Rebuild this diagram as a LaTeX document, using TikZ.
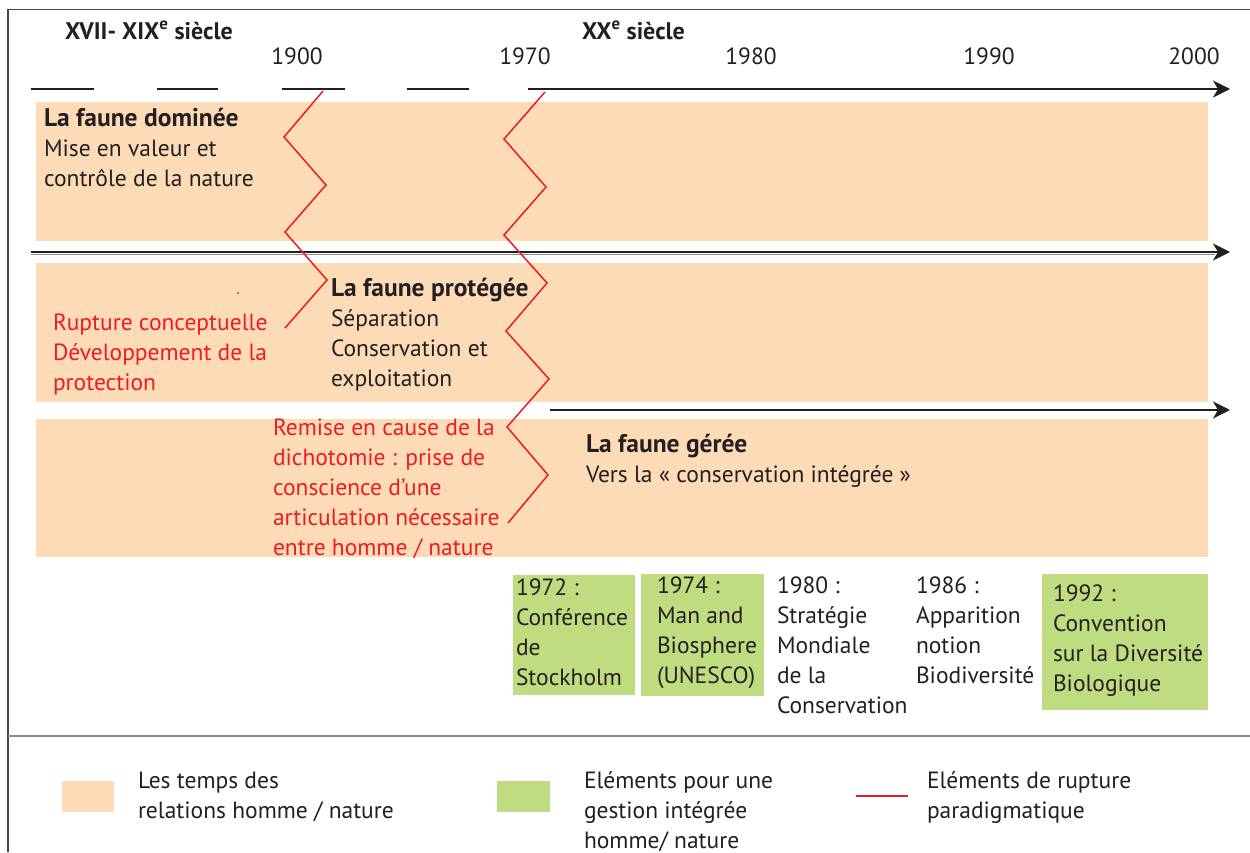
\documentclass[tikz,border=0pt]{standalone}
\usepackage{fontspec}
\setmainfont{PT Sans}
\usetikzlibrary{arrows.meta}
\definecolor{peach}{RGB}{253,219,182}
\definecolor{leaf}{RGB}{192,220,128}
\definecolor{rupt}{RGB}{237,28,36}
\definecolor{ink}{RGB}{35,31,32}
\definecolor{framec}{RGB}{70,70,70}
\definecolor{sepc}{RGB}{140,140,140}
\newcommand{\stackl}[1]{\begin{tabular}[t]{@{}l@{}}#1\end{tabular}}
\newcommand{\btitle}[1]{{\fontsize{25.5}{30}\selectfont\bfseries #1}}
\begin{document}
\begin{tikzpicture}[x=1pt,y=-1pt,
  every node/.style={inner sep=0pt, outer sep=0pt, anchor=base west,
    font=\fontsize{23.5}{30}\selectfont, text=ink},
  band/.style={fill=peach, draw=none},
  evbox/.style={fill=leaf, draw=none},
  axis/.style={draw=ink, line width=2pt},
  axisarrow/.style={axis, -{Stealth[length=17pt, width=17pt, inset=5pt]}},
  zig/.style={draw=rupt, line width=1.5pt, line join=miter},
  rupttext/.style={text=rupt},
  yearlbl/.style={anchor=base},
  headlbl/.style={font=\fontsize{24}{28}\selectfont\bfseries}]
\useasboundingbox (0,0) rectangle (1250,852);
% frame
\draw[framec, line width=1.5pt] (8,852) -- (8,9.5) -- (1250,9.5);
\draw[sepc, line width=2pt] (8,736) -- (1250,736);
% bands
\path[band] (36,102) rectangle (1208,241);
\path[band] (36,263) rectangle (1208,402);
\path[band] (36,419) rectangle (1208,557);
% headers
\node[headlbl] (h1) at (65,39) {XVII- XIX\textsuperscript{e} siècle};
\node[headlbl] (h2) at (582,39) {XX\textsuperscript{e} siècle};
% years
\node[yearlbl] (y1900) at (297,64) {1900};
\node[yearlbl] (y1970) at (525,64) {1970};
\node[yearlbl] (y1980) at (751,64) {1980};
\node[yearlbl] (y1990) at (989,64) {1990};
\node[yearlbl] (y2000) at (1194,64) {2000};
% timeline coordinates
\coordinate (d1a) at (31,89);  \coordinate (d1b) at (94,89);
\coordinate (d2a) at (157,89); \coordinate (d2b) at (218,89);
\coordinate (d3a) at (282,89); \coordinate (d3b) at (345,89);
\coordinate (d4a) at (407,89); \coordinate (d4b) at (469,89);
\coordinate (t1a) at (528,89); \coordinate (t1b) at (1230,89);
\coordinate (t2a) at (31,252); \coordinate (t2b) at (1230,252);
\coordinate (t3a) at (550,410); \coordinate (t3b) at (1230,410);
\draw[axis] (d1a) -- (d1b);
\draw[axis] (d2a) -- (d2b);
\draw[axis] (d3a) -- (d3b);
\draw[axis] (d4a) -- (d4b);
\draw[axisarrow] (t1a) -- (t1b);
\draw[sepc, line width=1pt] (31,254) -- (1215,254);
\draw[axisarrow] (t2a) -- (t2b);
\draw[axisarrow] (t3a) -- (t3b);
% zigzags
\draw[zig] (323,91) -- (284,137) -- (326,185) -- (285,232) -- (327,280) -- (285,328);
\draw[zig] (545,92) -- (504,139) -- (546,187) -- (504,235) -- (547,283) -- (506,331)
  -- (549,379) -- (507,427) -- (548,475) -- (508,523);
% stray dot
\fill[ink] (238,293) circle (0.8);
% band texts
\node (dom) at (44,126) {\stackl{\btitle{La faune dominée}\\Mise en valeur et\\contrôle de la nature}};
\node (prot) at (331,296) {\stackl{\btitle{La faune protégée}\\Séparation\\Conservation et\\exploitation}};
\node[rupttext] (rup1) at (53,330) {\stackl{Rupture conceptuelle\\Développement de la\\protection}};
\node[rupttext] (rup2) at (273,435) {\stackl{Remise en cause de la\\dichotomie : prise de\\conscience d’une\\articulation nécessaire\\entre homme / nature}};
\node (ger) at (586,452) {\stackl{\btitle{La faune gérée}\\Vers la « conservation intégrée »}};
% events
\path[evbox] (513,575) rectangle (635,695);
\path[evbox] (641,574) rectangle (764,696);
\path[evbox] (1042,574) rectangle (1208,710);
\node (e1972) at (516,595) {\stackl{1972 :\\Conférence\\de\\Stockholm}};
\node (e1974) at (657,593) {\stackl{1974 :\\Man and\\Biosphere\\(UNESCO)}};
\node (e1980) at (777,593) {\stackl{1980 :\\Stratégie\\Mondiale\\de la\\Conservation}};
\node (e1986) at (916,593) {\stackl{1986 :\\Apparition\\notion\\Biodiversité}};
\node (e1992) at (1053,601) {\stackl{1992 :\\Convention\\sur la Diversité\\Biologique}};
% legend
\path[band] (62,781) rectangle (114,812);
\node (l1) at (138,788) {\stackl{Les temps des\\relations homme / nature}};
\path[evbox] (497,781) rectangle (550,812);
\node (l2) at (584,788) {\stackl{Eléments pour une\\gestion intégrée\\homme/ nature}};
\draw[rupt, line width=2pt] (856,796) -- (908,796);
\node (l3) at (927,788) {\stackl{Eléments de rupture\\paradigmatique}};
\end{tikzpicture}
\end{document}
